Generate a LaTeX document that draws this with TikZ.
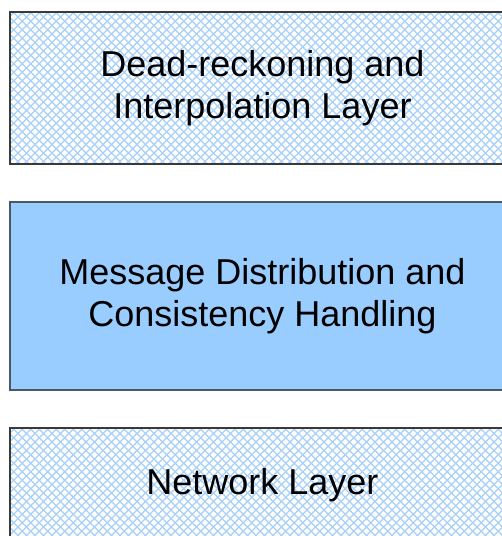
\documentclass[tikz,border=0pt]{standalone}
\usepackage{fontspec}
\setmainfont{Liberation Sans}
\usetikzlibrary{backgrounds}
\definecolor{hatchblue}{HTML}{A6D0FA}
\definecolor{boxblue}{HTML}{99CCFF}
\definecolor{edgegray}{HTML}{3A3A3A}
\definecolor{edgeblue}{HTML}{4A5868}
\tikzset{
  layerbox/.style={draw=edgegray, line width=1.5pt, minimum width=505pt, align=center,
    font=\fontsize{36}{41.5}\selectfont, inner sep=0pt},
  hatchline/.style={hatchblue, line width=1.3pt},
  solidblue/.style={fill=boxblue, draw=edgeblue}
}
\begin{document}
\begin{tikzpicture}[x=1pt,y=-1pt]
\useasboundingbox (0,0) rectangle (502,536);
\node[layerbox, minimum height=152pt] (dead) at (262.5,88)
  {Dead-reckoning and\\Interpolation Layer};
\node[layerbox, solidblue, minimum height=188pt] (msg) at (262.5,296)
  {Message Distribution and\\Consistency Handling};
\node[layerbox, minimum height=114pt] (net) at (262.5,485)
  {Network Layer};
\begin{scope}[on background layer]
  \fill[white] (0,0) rectangle (502,536);
  \begin{scope}
    \clip (dead.north west) rectangle (dead.south east);
    \foreach \c in {-560,-551.5,...,1080}{
      \draw[hatchline] (\c,0) -- (\c+560,560);
      \draw[hatchline] (\c,0) -- (\c-560,560);
    }
  \end{scope}
  \begin{scope}
    \clip (net.north west) rectangle (net.south east);
    \foreach \c in {-560,-551.5,...,1080}{
      \draw[hatchline] (\c,0) -- (\c+560,560);
      \draw[hatchline] (\c,0) -- (\c-560,560);
    }
  \end{scope}
\end{scope}
\end{tikzpicture}
\end{document}
